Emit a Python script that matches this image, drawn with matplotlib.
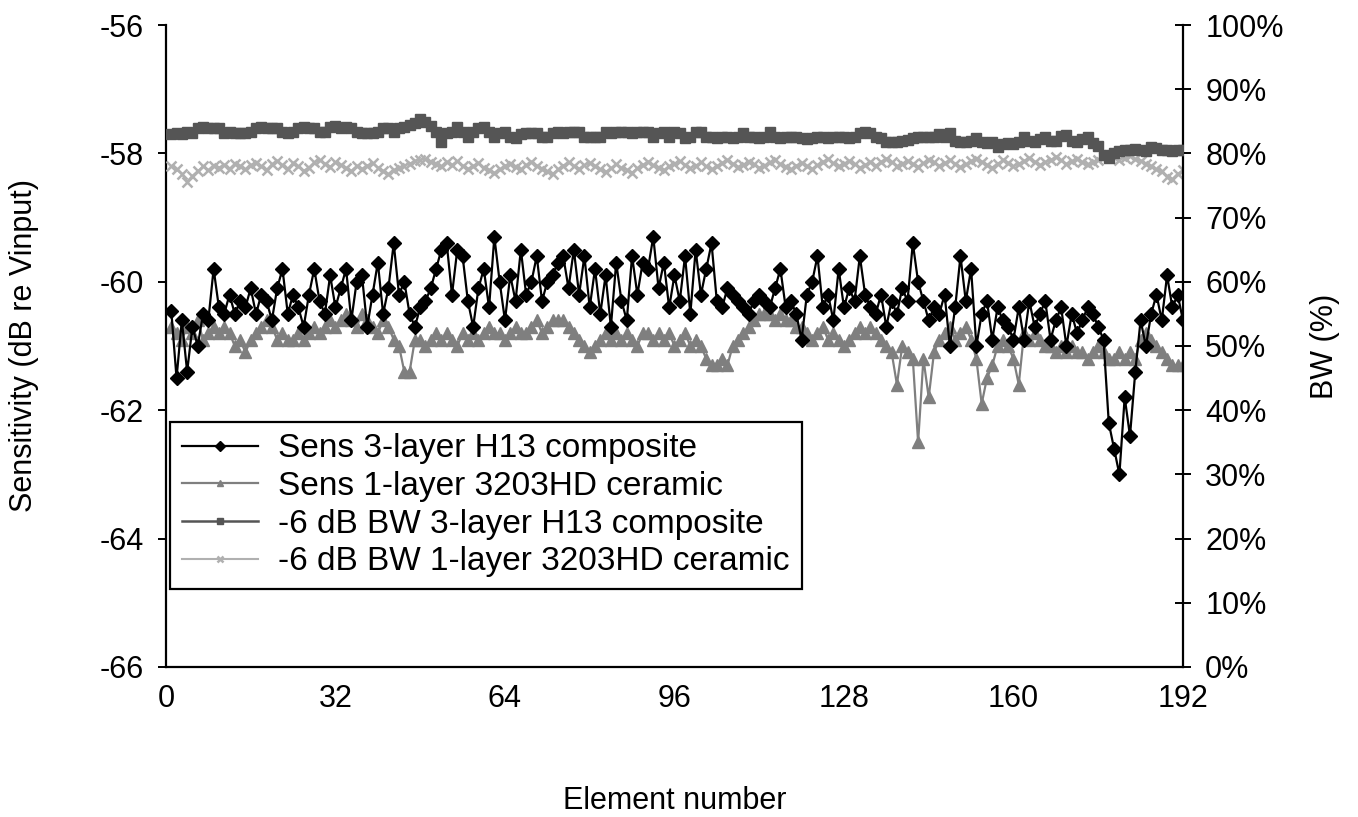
import numpy as np
import matplotlib
matplotlib.use("Agg")
import matplotlib.pyplot as plt
from matplotlib.ticker import PercentFormatter

plt.rcParams['font.family'] = ['Liberation Sans', 'DejaVu Sans']
plt.rcParams['axes.unicode_minus'] = False

# element index along the array
element = np.arange(1, 193)

# sensitivity, dB re Vinput
sens_h13 = [
    -60.45, -61.5, -60.6, -61.4, -60.7, -61.0, -60.5, -60.6, -59.8, -60.4, -60.5, -60.2, -60.5, -60.3, -60.4, -60.1,
    -60.5, -60.2, -60.3, -60.6, -60.1, -59.8, -60.5, -60.2, -60.4, -60.7, -60.2, -59.8, -60.3, -60.5, -59.9, -60.4,
    -60.1, -59.8, -60.6, -60.0, -59.9, -60.7, -60.2, -59.7, -60.5, -60.1, -59.4, -60.2, -60.0, -60.5, -60.7, -60.4,
    -60.3, -60.1, -59.8, -59.5, -59.4, -60.2, -59.5, -59.6, -60.3, -60.7, -60.1, -59.8, -60.4, -59.3, -60.0, -60.6,
    -59.9, -60.3, -59.5, -60.2, -60.0, -59.6, -60.3, -60.0, -59.9, -59.7, -59.6, -60.1, -59.5, -60.2, -59.6, -60.4,
    -59.8, -60.5, -59.9, -60.7, -59.7, -60.3, -60.6, -59.6, -60.2, -59.7, -59.8, -59.3, -60.1, -59.7, -60.4, -59.9,
    -60.3, -59.6, -60.5, -59.5, -60.2, -59.8, -59.4, -60.3, -60.4, -60.1, -60.2, -60.3, -60.4, -60.5, -60.3, -60.2,
    -60.3, -60.4, -60.1, -59.8, -60.4, -60.3, -60.5, -60.9, -60.2, -60.0, -59.6, -60.4, -60.2, -60.6, -59.8, -60.4,
    -60.1, -60.3, -59.6, -60.2, -60.4, -60.5, -60.2, -60.7, -60.3, -60.5, -60.1, -60.3, -59.4, -60.0, -60.3, -60.6,
    -60.4, -60.5, -60.2, -61.0, -60.4, -59.6, -60.3, -59.8, -61.0, -60.5, -60.3, -60.9, -60.4, -60.6, -60.7, -60.9,
    -60.4, -60.9, -60.3, -60.7, -60.5, -60.3, -60.9, -60.6, -60.4, -61.0, -60.5, -60.8, -60.6, -60.4, -60.5, -60.7,
    -60.9, -62.2, -62.6, -63.0, -61.8, -62.4, -61.4, -60.6, -61.0, -60.5, -60.2, -60.6, -59.9, -60.4, -60.2, -60.6,
]
sens_3203 = [
    -60.7, -60.8, -60.9, -60.7, -60.8, -60.6, -60.9, -60.8, -60.7, -60.8, -60.7, -60.8, -61.0, -60.9, -61.1, -60.9,
    -60.8, -60.7, -60.6, -60.7, -60.9, -60.8, -60.9, -60.9, -60.8, -60.9, -60.8, -60.7, -60.8, -60.7, -60.6, -60.7,
    -60.6, -60.5, -60.6, -60.7, -60.5, -60.6, -60.7, -60.8, -60.6, -60.7, -60.9, -61.0, -61.4, -61.4, -60.9, -60.9,
    -61.0, -60.9, -60.8, -60.9, -60.8, -60.9, -61.0, -60.8, -60.9, -60.8, -60.9, -60.8, -60.7, -60.8, -60.8, -60.9,
    -60.8, -60.7, -60.8, -60.8, -60.7, -60.6, -60.8, -60.7, -60.6, -60.6, -60.6, -60.7, -60.8, -60.9, -61.0, -61.1,
    -61.0, -60.9, -60.8, -60.9, -60.8, -60.9, -60.8, -60.9, -61.0, -60.8, -60.8, -60.9, -60.8, -60.9, -60.8, -61.0,
    -60.9, -60.8, -61.0, -60.9, -61.0, -61.2, -61.3, -61.3, -61.2, -61.3, -61.0, -60.9, -60.8, -60.7, -60.6, -60.5,
    -60.5, -60.5, -60.6, -60.5, -60.6, -60.6, -60.7, -60.7, -60.8, -60.9, -60.8, -60.7, -60.9, -60.8, -60.9, -61.0,
    -60.9, -60.8, -60.7, -60.8, -60.7, -60.8, -60.9, -61.0, -61.1, -61.6, -61.0, -61.1, -61.2, -62.5, -61.2, -61.8,
    -61.1, -60.9, -60.8, -60.7, -60.9, -60.8, -60.7, -60.9, -61.2, -61.9, -61.5, -61.3, -61.0, -60.9, -61.0, -61.2,
    -61.6, -60.8, -60.9, -60.8, -60.9, -61.0, -61.0, -61.1, -61.0, -61.1, -61.0, -61.1, -61.1, -61.2, -61.1, -61.0,
    -61.1, -61.2, -61.2, -61.1, -61.2, -61.1, -61.2, -60.9, -60.8, -60.9, -61.0, -61.1, -61.2, -61.3, -61.3, -61.3,
]

# -6 dB bandwidth, percent
bw_h13 = [
    83.0, 83.2, 83.0, 83.4, 83.2, 84.0, 84.1, 84.0, 83.9, 84.0, 83.2, 83.3, 83.2, 83.1, 83.2, 83.3,
    83.9, 84.1, 84.0, 83.9, 84.0, 83.3, 83.2, 83.3, 84.0, 84.1, 84.0, 83.9, 83.4, 83.3, 84.1, 84.2,
    84.0, 84.1, 84.0, 83.3, 83.2, 83.1, 83.2, 83.3, 84.0, 83.9, 83.3, 84.0, 84.1, 84.4, 84.8, 85.4,
    84.9, 84.3, 83.4, 81.8, 83.2, 83.4, 84.1, 83.3, 82.6, 83.3, 84.0, 84.1, 83.4, 82.6, 83.2, 83.3,
    82.5, 82.4, 83.0, 83.1, 83.2, 83.1, 82.6, 82.5, 83.2, 83.3, 83.2, 83.3, 83.4, 83.3, 82.5, 82.6,
    82.5, 82.6, 83.3, 83.2, 83.3, 83.4, 83.3, 83.2, 83.4, 83.3, 83.3, 82.6, 83.1, 83.3, 82.5, 83.3,
    83.2, 82.4, 82.5, 83.3, 83.4, 82.5, 82.6, 82.4, 82.5, 82.6, 82.4, 82.5, 83.2, 82.6, 82.5, 82.4,
    82.5, 83.3, 82.6, 82.4, 82.5, 82.6, 82.5, 82.4, 82.2, 82.4, 82.5, 82.6, 82.4, 82.5, 82.6, 82.5,
    82.4, 82.6, 83.2, 83.3, 83.2, 82.5, 82.4, 81.8, 81.7, 81.8, 82.0, 82.1, 82.4, 82.5, 82.6, 82.5,
    82.6, 83.0, 82.5, 83.2, 82.0, 81.8, 81.7, 81.9, 82.4, 81.7, 81.6, 81.8, 81.0, 81.4, 81.6, 81.5,
    81.8, 82.6, 82.0, 81.8, 82.2, 82.6, 82.0, 81.9, 82.7, 82.8, 82.0, 81.8, 82.3, 82.6, 81.6, 81.2,
    79.8, 79.3, 80.0, 80.3, 80.6, 80.5, 80.7, 80.6, 80.4, 81.0, 80.8, 80.6, 80.5, 80.4, 80.6, 80.5,
]
bw_3203 = [
    78.0, 77.5, 76.8, 75.6, 76.5, 77.2, 78.0, 77.4, 78.1, 77.8, 78.2, 77.6, 78.4, 78.0, 77.5, 78.2,
    78.5, 78.0, 77.4, 78.3, 78.8, 78.2, 77.6, 78.5, 78.0, 77.3, 77.8, 78.6, 78.9, 78.4, 77.9, 78.6,
    78.2, 77.7, 77.3, 78.0, 77.6, 78.1, 78.5, 77.8, 77.2, 76.8, 77.4, 77.8, 78.1, 78.4, 78.8, 79.0,
    79.2, 78.7, 78.4, 78.0, 78.6, 78.2, 78.8, 78.1, 77.6, 78.0, 78.5, 77.8, 77.4, 77.0, 77.5, 78.1,
    78.4, 77.9, 77.5, 78.2, 78.7, 78.1, 77.6, 77.2, 76.8, 77.5, 78.1, 78.6, 78.0, 77.6, 78.2, 78.5,
    78.0, 77.5, 77.1, 77.7, 78.3, 77.8, 77.4, 77.0, 77.7, 78.2, 78.7, 78.2, 77.8, 77.4, 78.0, 78.4,
    78.8, 78.2, 77.7, 78.1, 78.6, 78.0, 77.5, 78.0, 78.5, 79.0, 78.4, 77.9, 78.2, 78.7, 78.3, 77.8,
    78.1, 78.6, 78.9, 78.4, 77.9, 77.5, 78.1, 78.5, 78.0, 77.6, 78.2, 78.7, 79.1, 78.5, 78.0, 78.4,
    78.8, 78.3, 77.8, 78.2, 78.6, 78.1, 78.7, 79.2, 78.6, 78.0, 78.4, 78.8, 78.3, 77.9, 78.5, 79.0,
    78.6, 78.1, 78.5, 79.0, 78.4, 77.9, 78.3, 78.8, 79.2, 78.7, 78.2, 77.8, 78.4, 78.9, 78.5, 78.0,
    78.4, 78.8, 79.3, 78.7, 78.2, 78.6, 79.0, 79.4, 78.9, 78.4, 78.8, 79.2, 78.7, 78.3, 78.6, 79.0,
    79.4, 79.8, 79.5, 79.0, 79.3, 79.6, 79.2, 78.8, 78.4, 78.0, 77.6, 77.2, 76.4, 76.0, 76.8, 77.4,
]

labels = ['Sens 3-layer H13 composite', 'Sens 1-layer 3203HD ceramic',
          '-6 dB BW 3-layer H13 composite', '-6 dB BW 1-layer 3203HD ceramic']
x_ticks = [0, 32, 64, 96, 128, 160, 192]

fs = 22

fig = plt.figure(figsize=(13.58, 8.17), dpi=100)
ax = fig.add_axes([0.1222, 0.1836, 0.7489, 0.7858])
ax2 = ax.twinx()

l1, = ax.plot(element, sens_h13, color='black', lw=1.6, marker='D', ms=7,
              label=labels[0], zorder=3)
l2, = ax.plot(element, sens_3203, color='#7f7f7f', lw=1.6, marker='^', ms=8.5,
              label=labels[1], zorder=2)
l3, = ax2.plot(element, bw_h13, color='#555555', lw=1.8, marker='s', ms=7.5,
               label=labels[2], zorder=3)
l4, = ax2.plot(element, bw_3203, color='#b0b0b0', lw=1.5, marker='x', ms=7.5,
               mew=1.8, label=labels[3], zorder=2)

ax.set_xlim(0, 192)
ax.set_ylim(-66, -56)
ax2.set_ylim(0, 100)
ax.set_xticks(x_ticks)
ax.set_yticks(np.arange(-66, -55, 2))
ax2.set_yticks(np.arange(0, 101, 10))
ax2.yaxis.set_major_formatter(PercentFormatter(decimals=0))

for a in (ax, ax2):
    a.spines['top'].set_visible(False)
    for s in ('left', 'right', 'bottom'):
        a.spines[s].set_linewidth(1.6)
ax.spines['right'].set_visible(False)
ax2.spines['left'].set_visible(False)
ax2.spines['bottom'].set_visible(False)

ax.tick_params(axis='y', direction='out', length=6, width=1.4, pad=10, labelsize=fs)
ax.tick_params(axis='x', direction='out', length=0, width=1.4, pad=12, labelsize=fs)
ax2.tick_params(axis='y', direction='inout', length=12, width=1.4, pad=10, labelsize=fs)

ax.set_xlabel('Element number', fontsize=fs)
ax.xaxis.set_label_coords(0.5, -0.185)
ax.set_ylabel('Sensitivity (dB re Vinput)', fontsize=fs)
ax.yaxis.set_label_coords(-0.125, 0.5)
ax2.set_ylabel('BW (%)', fontsize=fs)
ax2.yaxis.set_label_coords(1.125, 0.5)

leg = ax2.legend([l1, l2, l3, l4], labels, loc='upper left',
                 bbox_to_anchor=(0.004, 0.382), fontsize=24, frameon=True,
                 fancybox=False, edgecolor='black', framealpha=1,
                 handlelength=2.3, handletextpad=0.6, labelspacing=0.2,
                 borderpad=0.35, borderaxespad=0)
leg.get_frame().set_linewidth(1.6)
for h in leg.legend_handles:
    h.set_markersize(5)

fig.savefig('out.png', dpi=100)
